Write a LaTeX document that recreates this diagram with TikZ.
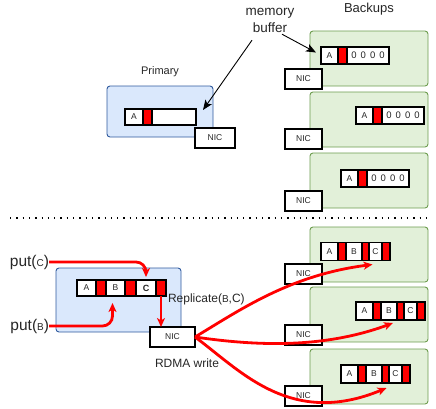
\documentclass[tikz,border=0pt]{standalone}
\usepackage{fontspec}
\setmainfont{Liberation Sans}
\usetikzlibrary{calc,arrows.meta}
\definecolor{primfill}{HTML}{DAE8FC}
\definecolor{primline}{HTML}{2F5A9E}
\definecolor{backfill}{HTML}{E2F0D9}
\definecolor{backline}{HTML}{6D9D4F}
\newcommand{\sm}[1]{{\fontsize{10}{10}\selectfont #1}}
\newcommand{\zeros}{0\hspace{4pt}0\hspace{4pt}0\hspace{4pt}0}

\begin{document}
\begin{tikzpicture}[x=1pt,y=-1pt]
\def\redcol{red}
\def\linecol{black}

\tikzset{every node/.style={inner sep=0pt, outer sep=0pt, text=black!85}}
\tikzset{machine/.style={rounded corners=3pt, line width=.9pt, anchor=north west}}
\tikzset{prim/.style={machine, draw=primline, fill=primfill}}
\tikzset{backup/.style={machine, draw=backline, fill=backfill, minimum width=118, minimum height=55}}
\tikzset{cell/.style={draw=\linecol, fill=white, line width=1.6pt, anchor=west, minimum width=17, minimum height=17, font=\fontsize{8.5}{8}\selectfont}}
\tikzset{redcell/.style={cell, fill=\redcol, minimum width=9}}
\tikzset{zerocell/.style={cell, minimum width=42, font=\fontsize{9.5}{9}\selectfont}}
\tikzset{nic/.style={draw=\linecol, fill=white, line width=1.6pt, anchor=north west, minimum width=37, minimum height=20, font=\fontsize{8.5}{8}\selectfont}}
\tikzset{redarrow/.style={draw=\redcol, line width=2.8pt, -{Stealth[length=9pt,width=8pt,inset=2.5pt]}}}
\tikzset{blackarrow/.style={draw=\linecol, line width=.9pt, -{Stealth[length=10pt,width=8pt,inset=2.5pt]}}}
\useasboundingbox (0,0) rectangle (436,408);

%%%%%% labels
\node(primlabel) at (160,72) [font=\fontsize{11}{11}\selectfont]{Primary};
\node(mem) at (270,20) [align=center, font=\fontsize{13.5}{17}\selectfont]{memory\\buffer};
\node(backlabel) at (369,9) [font=\fontsize{13}{13}\selectfont]{Backups};

%%%%%% Primary (top)
\node(primtop) at (107,86) [prim, minimum width=106, minimum height=51]{};
\node(pa) at (125,117) [cell, minimum width=18, minimum height=16]{A};
\node(pr) at (pa.east) [redcell, minimum height=16]{};
\node(pe) at (pr.east) [cell, minimum width=44, minimum height=16]{};
\node(pnic) at (195,128) [nic, minimum width=40]{NIC};

%%%%%% Backups (top)
\node(bk1) at (310,31) [backup]{};
\node(ba1) at (321,55.5) [cell]{A};
\node(br1) at (ba1.east) [redcell]{};
\node(bz1) at (br1.east) [zerocell]{\zeros};
\node(bnic1) at (285,69) [nic]{NIC};

\node(bk2) at (310,92) [backup]{};
\node(ba2) at (356,115.5) [cell]{A};
\node(br2) at (ba2.east) [redcell]{};
\node(bz2) at (br2.east) [zerocell]{\zeros};
\node(bnic2) at (285,129) [nic]{NIC};

\node(bk3) at (310,153) [backup]{};
\node(ba3) at (341,178.5) [cell]{A};
\node(br3) at (ba3.east) [redcell]{};
\node(bz3) at (br3.east) [zerocell]{\zeros};
\node(bnic3) at (285,191) [nic]{NIC};

\path (mem.south) ++(-18,8) coordinate (memA);
\path (mem.south) ++(12,2) coordinate (memB);
\draw[blackarrow] (memA) -- ($(pe.east)+(7,-7)$);
\draw[blackarrow] (memB) -- ($(ba1.west)+(-5,-3)$);

%%%%%% separator
\draw[line width=1.3pt, dash pattern=on 1.3pt off 5pt] (10,218) -- (432,218);

%%%%%% Primary (bottom)
\node(primbot) at (56,268) [prim, minimum width=125, minimum height=64]{};
\node(qa) at (77,288) [cell, minimum width=19, minimum height=16]{A};
\node(qr1) at (qa.east) [redcell, minimum width=10, minimum height=16]{};
\node(qb) at (qr1.east) [cell, minimum width=19, minimum height=16]{B};
\node(qr2) at (qb.east) [redcell, minimum width=11, minimum height=16]{};
\node(qc) at (qr2.east) [cell, minimum width=20, minimum height=16, font=\fontsize{9}{8}\selectfont\bfseries]{C};
\node(qr3) at (qc.east) [redcell, minimum width=10, minimum height=16]{};
\node(qnic) at (150,327) [nic, minimum width=45]{NIC};

\node(putc) at (49,262) [anchor=east, font=\fontsize{15.5}{15}\selectfont]{put(\sm{C})};
\node(putb) at (49,326) [anchor=east, font=\fontsize{15.5}{15}\selectfont]{put(\sm{B})};
\node(repl) at (168,299) [anchor=west, font=\fontsize{12}{12}\selectfont]{Replicate(\sm{B},C)};
\node(rdma) at (187,363) [font=\fontsize{12}{12}\selectfont]{RDMA write};

%%%%%% Backups (bottom)
\node(ck1) at (310,227) [backup]{};
\node(ca1) at (321,251.5) [cell, minimum height=18]{A};
\node(cr1) at (ca1.east) [redcell, minimum width=8, minimum height=18]{};
\node(cb1) at (cr1.east) [cell, minimum width=16, minimum height=18]{B};
\node(cs1) at (cb1.east) [redcell, minimum width=7, minimum height=18]{};
\node(cc1) at (cs1.east) [cell, minimum width=13, minimum height=18]{C};
\node(ct1) at (cc1.east) [redcell, minimum width=8, minimum height=18]{};
\node(cnic1) at (285,264) [nic]{NIC};

\node(ck2) at (310,287) [backup]{};
\node(ca2) at (356,311) [cell, minimum height=18]{A};
\node(cr2) at (ca2.east) [redcell, minimum width=8, minimum height=18]{};
\node(cb2) at (cr2.east) [cell, minimum width=16, minimum height=18]{B};
\node(cs2) at (cb2.east) [redcell, minimum width=7, minimum height=18]{};
\node(cc2) at (cs2.east) [cell, minimum width=13, minimum height=18]{C};
\node(ct2) at (cc2.east) [redcell, minimum width=8, minimum height=18]{};
\node(cnic2) at (285,325) [nic]{NIC};

\node(ck3) at (310,349) [backup]{};
\node(ca3) at (341,374) [cell, minimum height=18]{A};
\node(cr3) at (ca3.east) [redcell, minimum width=8, minimum height=18]{};
\node(cb3) at (cr3.east) [cell, minimum width=16, minimum height=18]{B};
\node(cs3) at (cb3.east) [redcell, minimum width=7, minimum height=18]{};
\node(cc3) at (cs3.east) [cell, minimum width=13, minimum height=18]{C};
\node(ct3) at (cc3.east) [redcell, minimum width=8, minimum height=18]{};
\node(cnic3) at (285,386) [nic]{NIC};

%%%%%% red paths
\draw[redarrow, rounded corners=10pt] (putc.east) -| ($(qc.north)+(0,-3)$);
\draw[redarrow, rounded corners=10pt] (putb.east) -| ($(qb.south)+(-3,7)$);
\draw[redarrow] (qr3.south) -- (qr3.south |- qnic.north);
\draw[redarrow] (qnic.east) .. controls +(45,-27) and (290,275) .. ($(cc1.south)+(-3,4)$);
\draw[redarrow] (qnic.east) .. controls +(55,8) and (320,350) .. ($(cb2.south)+(4,3)$);
\draw[redarrow] (qnic.east) .. controls +(45,33) and (290,428) .. ($(cs3.south)+(1,5)$);
\end{tikzpicture}
\end{document}
